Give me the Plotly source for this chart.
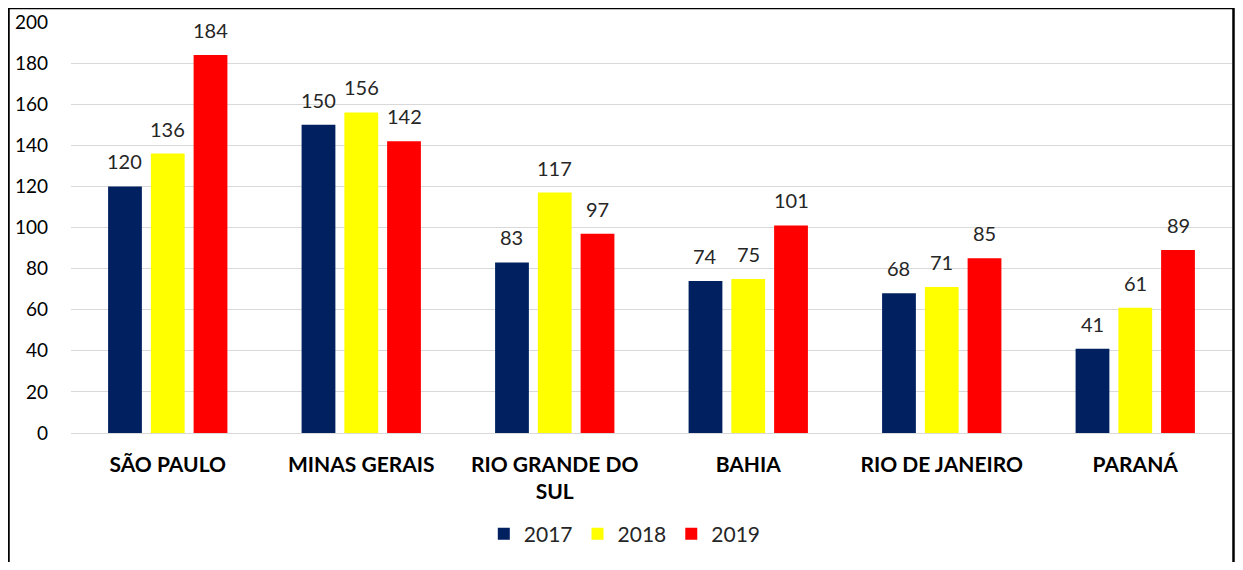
import plotly.graph_objects as go

categories = ["SÃO PAULO", "MINAS GERAIS", "RIO GRANDE DO<br>SUL", "BAHIA", "RIO DE JANEIRO", "PARANÁ"]
series_names = ["2017", "2018", "2019"]
values_2017 = [120, 150, 83, 74, 68, 41]
values_2018 = [136, 156, 117, 75, 71, 61]
values_2019 = [184, 142, 97, 101, 85, 89]
colors = ["#002060", "#FFFF00", "#FF0000"]
y_ticks = [0, 20, 40, 60, 80, 100, 120, 140, 160, 180, 200]

FONT = "Lato"
OFF = 8  # page body margin

W, H = 1243 - 2 * OFF, 570 - 2 * OFF
L = 71 - OFF
R = 3
T = 22 - OFF
B = H - (433 - OFF)
pw = W - L - R
ph = H - T - B

cat_w = pw / len(categories)
bargap = 0.337
slot = cat_w * (1 - bargap) / 3

fig = go.Figure()
all_vals = [values_2017, values_2018, values_2019]
for name, vals, col in zip(series_names, all_vals, colors):
    fig.add_trace(go.Bar(
        x=categories, y=vals, name=name,
        marker=dict(color=col, line=dict(width=0)),
    ))

annotations = []
for i, vals in enumerate(all_vals):
    for c, v in zip(categories, vals):
        annotations.append(dict(
            x=c, y=v, xref="x", yref="y", text=str(v), showarrow=False,
            xshift=(i - 1) * slot, yshift=25, yanchor="middle",
            font=dict(family=FONT, size=20, color="#262626"),
        ))

fig.update_layout(
    width=W, height=H,
    margin=dict(l=L, r=R, t=T, b=B),
    barmode="group",
    bargap=bargap,
    bargroupgap=0.21,
    plot_bgcolor="white",
    paper_bgcolor="white",
    font=dict(family=FONT, size=19, color="#000000"),
    showlegend=True,
    annotations=annotations,
    legend=dict(
        orientation="h", x=0.477, xanchor="center",
        y=(ph - (534 - 22)) / ph, yanchor="middle",
        font=dict(family=FONT, size=21, color="#262626"),
        itemwidth=30,
        traceorder="normal",
    ),
    xaxis=dict(
        showgrid=False, showline=False, ticks="",
        tickfont=dict(family=FONT, size=21, color="#000000", weight="bold"),
        ticklabelstandoff=17,
    ),
    yaxis=dict(
        range=[0, 200], tickvals=y_ticks,
        showgrid=True, gridcolor="#D9D9D9", gridwidth=1,
        zeroline=True, zerolinecolor="#D9D9D9", zerolinewidth=1,
        showline=False, ticks="",
        tickfont=dict(family=FONT, size=19, color="#000000"),
        ticklabelstandoff=22,
    ),
)

# chart border (figure pixel coords -> paper)
bx0, bx1, by_top, by_bot = 0.5, W - 1.5, 0, H + 10
fig.add_shape(
    type="rect", xref="paper", yref="paper",
    x0=(bx0 - L) / pw, x1=(bx1 - L) / pw,
    y0=(ph - (by_bot - T)) / ph, y1=(ph - (by_top - T)) / ph,
    line=dict(color="black", width=2.5), fillcolor="rgba(0,0,0,0)", layer="above",
)

fig.write_html("out.html")
